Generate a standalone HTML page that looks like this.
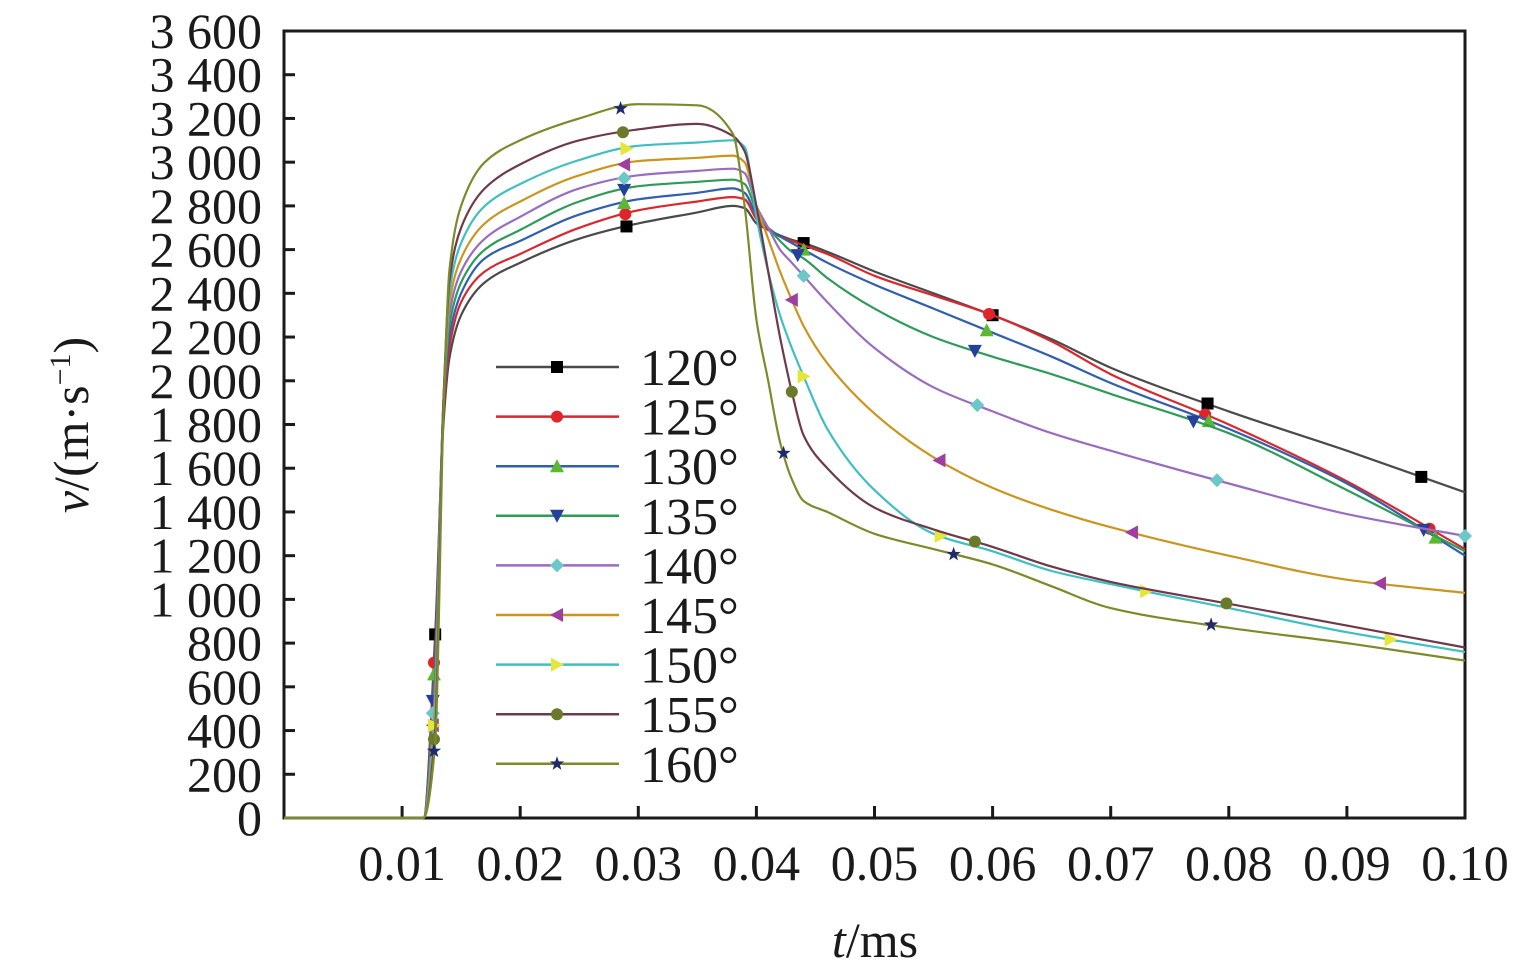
<!DOCTYPE html>
<html><head><meta charset="utf-8"><style>
html,body{margin:0;padding:0;background:#fff;}
svg{display:block;font-family:"Liberation Serif",serif;}
</style></head><body>
<svg id="chart" width="1535" height="974" viewBox="0 0 1535 974" xmlns="http://www.w3.org/2000/svg">
<g id="grid"></g><g id="series"></g><g id="legend"></g>
</svg>
<script>
const times=[0,0.0118,0.0128,0.0135,0.014,0.015,0.017,0.02,0.025,0.03,0.035,0.038,0.039,0.040,0.041,0.042,0.043,0.044,0.046,0.05,0.055,0.06,0.065,0.07,0.08,0.09,0.1];
const v120=[0,0,840,1800,2100,2300,2450,2540,2650,2720,2770,2800,2790,2720,2690,2665,2645,2630,2590,2500,2400,2300,2190,2060,1860,1680,1490];
const v125=[0,0,790,1850,2150,2360,2500,2580,2700,2780,2820,2840,2830,2740,2690,2660,2640,2620,2580,2480,2390,2300,2180,2030,1800,1540,1230];
const v130=[0,0,730,1880,2200,2400,2560,2640,2760,2830,2860,2880,2860,2760,2700,2660,2630,2600,2540,2440,2330,2220,2110,1990,1780,1530,1200];
const v135=[0,0,670,1900,2250,2450,2600,2690,2820,2890,2910,2920,2900,2780,2700,2640,2590,2560,2470,2330,2200,2110,2030,1940,1760,1500,1220];
const v140=[0,0,600,1900,2300,2500,2650,2750,2880,2940,2960,2970,2950,2800,2700,2600,2540,2480,2360,2150,1970,1860,1760,1680,1530,1390,1290];
const v145=[0,0,530,1900,2350,2560,2720,2820,2940,3005,3020,3030,3000,2800,2650,2500,2370,2250,2080,1850,1650,1510,1410,1330,1200,1090,1030];
const v150=[0,0,470,1900,2400,2630,2800,2900,3010,3075,3090,3100,3070,2750,2500,2300,2150,2020,1780,1500,1300,1220,1130,1070,960,850,760];
const v155=[0,0,400,1900,2450,2700,2880,2990,3100,3150,3175,3120,3050,2800,2500,2200,1950,1750,1600,1420,1320,1240,1150,1080,980,880,780];
const v160=[0,0,340,1850,2500,2800,3000,3100,3200,3265,3260,3130,2800,2280,2000,1720,1550,1450,1400,1300,1230,1160,1060,960,870,800,720];
const seriesNames=["120°","125°","130°","135°","140°","145°","150°","155°","160°"];
const markT120=[0.0128,0.029,0.044,0.06,0.0782,0.0963];
const markT125=[0.0127,0.0289,0.0597,0.078,0.097];
const markT130=[0.0127,0.0288,0.044,0.0595,0.0783,0.0975];
const markT135=[0.0126,0.0288,0.0435,0.0585,0.077,0.0965];
const markT140=[0.0126,0.0288,0.044,0.0587,0.079,0.1];
const markT145=[0.0126,0.0288,0.043,0.0555,0.0718,0.0928];
const markT150=[0.0127,0.029,0.044,0.0556,0.073,0.0937];
const markT155=[0.0127,0.0287,0.043,0.0585,0.0798];
const markT160=[0.0127,0.0285,0.0423,0.0567,0.0785];
const yTicks=[0,200,400,600,800,1000,1200,1400,1600,1800,2000,2200,2400,2600,2800,3000,3200,3400,3600];
const yTickLabels=["0","200","400","600","800","1 000","1 200","1 400","1 600","1 800","2 000","2 200","2 400","2 600","2 800","3 000","3 200","3 400","3 600"];
const xTicks=[0.01,0.02,0.03,0.04,0.05,0.06,0.07,0.08,0.09,0.10];
const xTickLabels=["0.01","0.02","0.03","0.04","0.05","0.06","0.07","0.08","0.09","0.10"];

const NS="http://www.w3.org/2000/svg";
const X0=284,X1=1465,Y0=818,Y1=31;
const xs=t=>X0+(t/0.1)*(X1-X0);
const ys=v=>Y0-(v/3600)*(Y0-Y1);
function mk(tag,attrs,parent){const e=document.createElementNS(NS,tag);for(const k in attrs)e.setAttribute(k,attrs[k]);parent.appendChild(e);return e;}
const grid=document.getElementById('grid'),sg=document.getElementById('series'),lg=document.getElementById('legend');

const vals=[v120,v125,v130,v135,v140,v145,v150,v155,v160];
const marks=[markT120,markT125,markT130,markT135,markT140,markT145,markT150,markT155,markT160];
const lineCols=["#4a4a4a","#d9272e","#2f5fae","#2e9b5a","#9a6cc0","#c9961f","#3fbfbf","#6e3a4a","#7d8a2a"];
const markCols=["#000","#e0242c","#5cb832","#25409a","#6cc7c9","#9e3fa0","#e6e63a","#6b7a2a","#1f2a6a"];
const markShapes=["square","circle","up","down","diamond","left","right","circle","star"];

function interp(arr,t){for(let i=1;i<times.length;i++){if(t<=times[i]){const f=(t-times[i-1])/(times[i]-times[i-1]);return arr[i-1]+f*(arr[i]-arr[i-1]);}}return arr[arr.length-1];}
// monotone cubic path
function monoPath(px,py){
  const n=px.length,d=[],m=new Array(n);
  for(let i=0;i<n-1;i++)d.push((py[i+1]-py[i])/(px[i+1]-px[i]));
  m[0]=d[0];m[n-1]=d[n-2];
  for(let i=1;i<n-1;i++){ if(d[i-1]*d[i]<=0)m[i]=0; else { const h0=px[i]-px[i-1],h1=px[i+1]-px[i]; const w1=2*h1+h0,w2=h1+2*h0; m[i]=(w1+w2)/(w1/d[i-1]+w2/d[i]); } }
  let s='M'+px[0].toFixed(1)+','+py[0].toFixed(1);
  for(let i=0;i<n-1;i++){const h=px[i+1]-px[i];
    s+=' C'+(px[i]+h/3).toFixed(1)+','+(py[i]+m[i]*h/3).toFixed(1)+' '+(px[i+1]-h/3).toFixed(1)+','+(py[i+1]-m[i+1]*h/3).toFixed(1)+' '+px[i+1].toFixed(1)+','+py[i+1].toFixed(1);}
  return s;
}
function marker(shape,cx,cy,col,parent){
  const s=6;let e;
  if(shape==="square")e=mk('rect',{x:cx-s,y:cy-s,width:2*s,height:2*s,fill:col},parent);
  else if(shape==="circle")e=mk('circle',{cx:cx,cy:cy,r:s,fill:col},parent);
  else{let p;
    if(shape==="up")p=[[cx,cy-s-1],[cx+s+1,cy+s],[cx-s-1,cy+s]];
    else if(shape==="down")p=[[cx,cy+s+1],[cx+s+1,cy-s],[cx-s-1,cy-s]];
    else if(shape==="left")p=[[cx-s-1,cy],[cx+s,cy-s-1],[cx+s,cy+s+1]];
    else if(shape==="right")p=[[cx+s+1,cy],[cx-s,cy-s-1],[cx-s,cy+s+1]];
    else if(shape==="diamond")p=[[cx,cy-s-1],[cx+s+1,cy],[cx,cy+s+1],[cx-s-1,cy]];
    else{p=[];for(let k=0;k<10;k++){const r=k%2?3:7.5;const a=-Math.PI/2+k*Math.PI/5;p.push([cx+r*Math.cos(a),cy+r*Math.sin(a)]);}}
    e=mk('polygon',{points:p.map(q=>q.join(',')).join(' '),fill:col},parent);}
  return e;
}

const frame=mk('rect',{x:X0,y:Y1,width:X1-X0,height:Y0-Y1,fill:'none',stroke:'#1a1a1a','stroke-width':3},grid);


yTicks.forEach((v,i)=>{
  const t=mk('line',{x1:X0,x2:X0+11,y1:ys(v),y2:ys(v),stroke:'#1a1a1a','stroke-width':3},grid);
  
  
  const l=mk('text',{x:262,y:ys(v)+17,'text-anchor':'end','font-size':50,fill:'#1a1a1a'},grid);
  l.textContent=yTickLabels[i];
  
  
});
xTicks.forEach((v,i)=>{
  const t=mk('line',{x1:xs(v),x2:xs(v),y1:Y0,y2:Y0-12,stroke:'#1a1a1a','stroke-width':3},grid);
  
  
  const l=mk('text',{x:xs(v),y:880,'text-anchor':'middle','font-size':50,fill:'#1a1a1a'},grid);
  l.textContent=xTickLabels[i];
  
  
});
const xt=mk('text',{x:875,y:957,'text-anchor':'middle','font-size':50,fill:'#1a1a1a'},grid);
xt.innerHTML='<tspan font-style="italic">t</tspan>/ms';


const yt=mk('text',{x:0,y:0,'text-anchor':'middle','font-size':50,fill:'#1a1a1a',transform:'translate(88,425) rotate(-90)'},grid);
yt.innerHTML='<tspan font-style="italic">v</tspan>/(m·s<tspan dy="-18" font-size="30">−1</tspan><tspan dy="18">)</tspan>';



vals.forEach((arr,si)=>{
  const d=monoPath(times.map(xs),arr.map(ys));
  const p=mk('path',{d:d,fill:'none',stroke:lineCols[si],'stroke-width':2.2,'stroke-linejoin':'round'},sg);
  
  
  marks[si].forEach(t=>{
    const m=marker(markShapes[si],xs(t),ys(interp(arr,t)),markCols[si],sg);
    
    
  });
  const ly=367+si*49.6;
  const g=mk('g',{},lg);
  
  
  mk('line',{x1:496,x2:619,y1:ly,y2:ly,stroke:lineCols[si],'stroke-width':2.5},g);
  marker(markShapes[si],557,ly,markCols[si],g);
  const tx=mk('text',{x:640,y:ly+18,'font-size':52,fill:'#1a1a1a'},g);
  tx.textContent=seriesNames[si];
});
</script>
</body></html>
